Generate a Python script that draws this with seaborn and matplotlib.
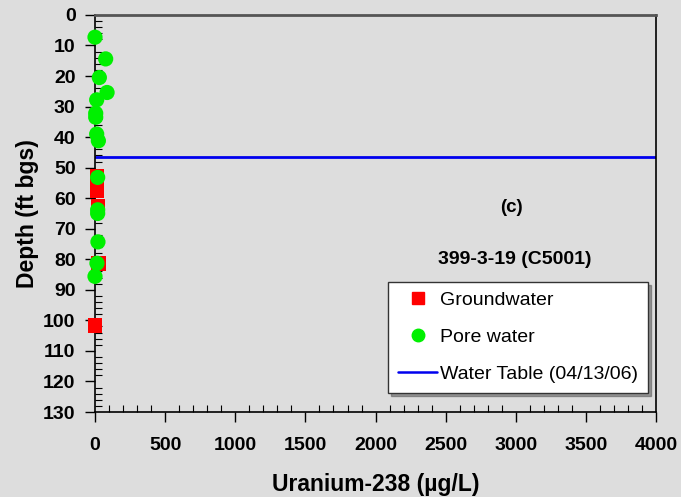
import matplotlib
matplotlib.use("Agg")
import matplotlib.pyplot as plt
from matplotlib.ticker import MultipleLocator
from matplotlib.lines import Line2D
import seaborn as sns
import pandas as pd

# Groundwater samples: uranium-238 (ug/L) and depth (ft bgs)
gw_uranium = [14, 14, 21, 24, 0]
gw_depth = [52.9, 57.4, 62.7, 81.3, 101.7]

# Pore water samples
pw_uranium = [0, 76, 31, 86, 12, 5, 5, 12, 24, 19, 19, 19, 21, 14, 0]
pw_depth = [7.3, 14.4, 20.5, 25.4, 27.8, 32.2, 33.5, 39.0, 41.2, 53.2, 63.8, 65.0, 74.3, 81.3, 85.6]

water_table_depth = 46.5
water_table_label = "Water Table (04/13/06)"
well_label = "399-3-19 (C5001)"
panel_label = "(c)"

sns.set_theme(style="white")
plt.rcParams["font.family"] = ["Liberation Sans", "DejaVu Sans"]
for key in ["text.color", "axes.labelcolor", "xtick.color", "ytick.color"]:
    plt.rcParams[key] = "black"

bg = "#dddddd"
fig = plt.figure(figsize=(6.81, 4.97), dpi=100, facecolor=bg)
ax = fig.add_axes([0.1395, 0.171, 0.824, 0.799], facecolor=bg)

gw = pd.DataFrame({"u": gw_uranium, "d": gw_depth})
pw = pd.DataFrame({"u": pw_uranium, "d": pw_depth})

sns.scatterplot(data=gw, x="u", y="d", ax=ax, marker="s", s=110,
                color="#ff0000", edgecolor="none", zorder=3, clip_on=False)
sns.scatterplot(data=pw, x="u", y="d", ax=ax, marker="o", s=120,
                color="#00f000", edgecolor="none", zorder=4, clip_on=False)
ax.axhline(water_table_depth, color="#0000ee", lw=2, zorder=2)

ax.set_xlim(0, 4000)
ax.set_ylim(130, 0)
ax.xaxis.set_major_locator(MultipleLocator(500))
ax.xaxis.set_minor_locator(MultipleLocator(100))
ax.yaxis.set_major_locator(MultipleLocator(10))
ax.yaxis.set_minor_locator(MultipleLocator(2))

ax.tick_params(which="major", direction="out", length=7, width=1, color="black",
               labelsize=14)
ax.tick_params(which="minor", direction="in", length=5, width=0.8, color="black")
ax.tick_params(axis="x", which="both", bottom=True, top=False)
ax.tick_params(axis="y", which="both", left=True, right=False)
ax.tick_params(axis="x", which="major", pad=11)
ax.tick_params(axis="y", which="major", pad=7)
for lab in ax.get_xticklabels() + ax.get_yticklabels():
    lab.set_fontweight("bold")

for side in ["left", "bottom", "right"]:
    ax.spines[side].set_color("black")
    ax.spines[side].set_linewidth(1.2)
ax.spines["top"].set_color("#555555")
ax.spines["top"].set_linewidth(2)

ax.set_xlabel("Uranium-238 (µg/L)", fontsize=16.5, fontweight="bold", labelpad=14)
ax.set_ylabel("Depth (ft bgs)", fontsize=16.5, fontweight="bold", labelpad=3)

ax.text(0.7415, 0.516, panel_label, transform=ax.transAxes, fontsize=13.5,
        fontweight="bold", ha="center", va="center")
ax.text(0.7487, 0.385, well_label, transform=ax.transAxes, fontsize=14,
        fontweight="bold", ha="center", va="center")

handles = [
    Line2D([], [], marker="s", color="#ff0000", ls="none", markersize=9),
    Line2D([], [], marker="o", color="#00f000", ls="none", markersize=9),
    Line2D([], [], color="#0000ee", lw=1.8),
]
leg = ax.legend(handles, ["Groundwater", "Pore water", water_table_label],
                loc="lower right", bbox_to_anchor=(0.985, 0.048),
                fontsize=14, frameon=True, fancybox=False, shadow=True,
                handlelength=2.0, handletextpad=0.15, labelspacing=1.0,
                borderpad=0.5, borderaxespad=0)
leg.get_frame().set_facecolor("white")
leg.get_frame().set_edgecolor("#333333")
leg.get_frame().set_linewidth(1)

fig.savefig("out.png", dpi=100, facecolor=bg)
